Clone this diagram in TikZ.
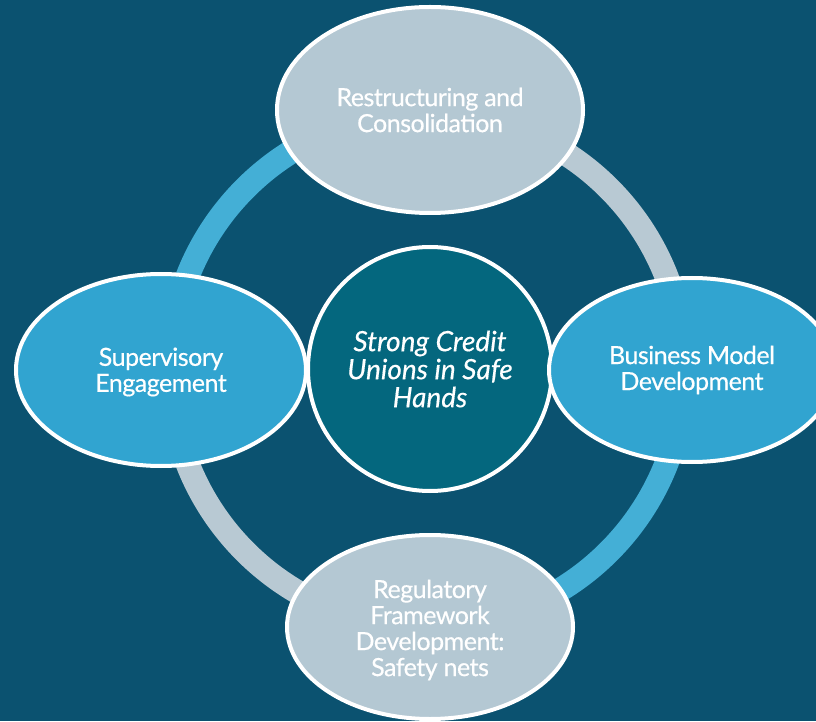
\documentclass[tikz,border=0pt]{standalone}
\usepackage{fontspec}
\setmainfont{Lato}
\newfontfamily\petalfont{Lato}[FakeBold=0.5,LetterSpace=-2]
\newfontfamily\hubfont{Lato}[FakeBold=0.4]
\usetikzlibrary{shapes.geometric}
\definecolor{bgnavy}{HTML}{0B5270}
\definecolor{ringblue}{HTML}{44AFD6}
\definecolor{ringgrey}{HTML}{B8C9D3}
\definecolor{petalblue}{HTML}{31A4D0}
\definecolor{petalgrey}{HTML}{B4C8D3}
\definecolor{hubteal}{HTML}{04677E}
\begin{document}
\begin{tikzpicture}[x=1pt,y=1pt,
  petaltext/.style={text=white, align=center, inner sep=0pt,
    font=\petalfont\fontsize{25}{26}\selectfont},
  petal/.style={ellipse, draw=white, line width=4pt, inner sep=0pt, petaltext},
  hub/.style={circle, draw=white, line width=4pt, fill=hubteal, inner sep=0pt,
    minimum size=244pt, text=white, align=center,
    font=\hubfont\fontsize{28}{28}\selectfont\itshape},
  band/.style={line width=24pt}]
  % canvas
  \fill[bgnavy] (0,0) rectangle (816,721);
  \useasboundingbox (0,0) rectangle (816,721);
  % ring behind the petals
  \coordinate (ringc) at (427,351);
  \draw[band, ringblue] (ringc) ++(180:257) arc[start angle=180, end angle=90, radius=257pt];
  \draw[band, ringgrey] (ringc) ++(90:257) arc[start angle=90, end angle=0, radius=257pt];
  \draw[band, ringblue] (ringc) ++(0:257) arc[start angle=0, end angle=-90, radius=257pt];
  \draw[band, ringgrey] (ringc) ++(-90:257) arc[start angle=-90, end angle=-180, radius=257pt];
  % hub
  \node[hub] (hub) at (430,352) {Strong Credit\\Unions in Safe\\Hands};
  % petals
  \node[petal, fill=petalgrey, minimum width=306pt, minimum height=206pt] (top) at (430,611)
    {Restructuring and\\Consolidation};
  \node[petal, fill=petalblue, minimum width=290pt, minimum height=192pt,
    label={[petaltext, yshift=-2pt]center:{Supervisory\\Engagement}}] (left) at (161,351) {};
  \node[petal, fill=petalblue, minimum width=286pt, minimum height=184pt] (right) at (692,351)
    {Business Model\\Development};
  \node[petal, fill=petalgrey, minimum width=286pt, minimum height=184pt,
    label={[petaltext, yshift=-3pt]center:{Regulatory\\Framework\\Development:\\Safety nets}}]
    (bottom) at (430,94) {};
\end{tikzpicture}
\end{document}
